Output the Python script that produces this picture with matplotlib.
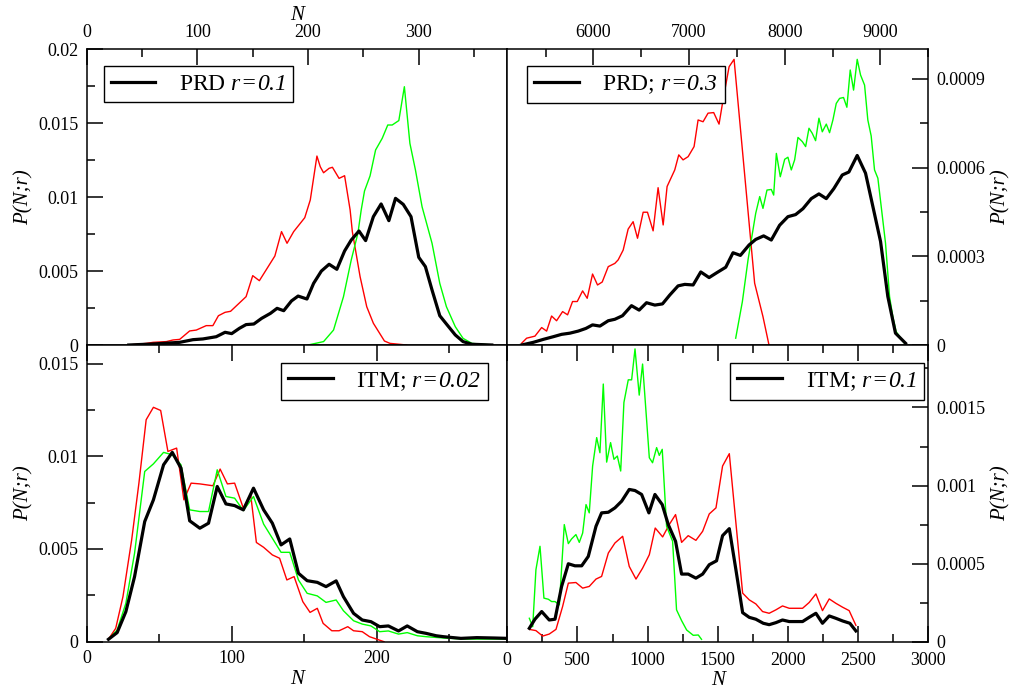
import matplotlib
matplotlib.use("Agg")
import matplotlib.pyplot as plt
from matplotlib.ticker import MultipleLocator, FormatStrFormatter

plt.rcParams["font.family"] = ["Liberation Serif", "DejaVu Serif"]
plt.rcParams["mathtext.fontset"] = "custom"
plt.rcParams["mathtext.rm"] = "Liberation Serif:italic"
plt.rcParams["mathtext.it"] = "Liberation Serif:italic"

# --- PRD r=0.1 (top left) ---
tl_black_n = [38, 60, 84, 96, 105, 117, 125, 131, 138, 144, 151, 158, 166, 172, 178, 185, 191,
              199, 205, 212, 219, 226, 233, 239, 246, 252, 259, 266, 273, 279, 286, 293, 300,
              306, 312, 319, 325, 333, 340, 348, 366]
tl_black_p = [0.0, 0.00007, 0.00018, 0.00036, 0.00041, 0.00056, 0.00086, 0.00077, 0.00113,
              0.00138, 0.00142, 0.0018, 0.00214, 0.00248, 0.00232, 0.00298, 0.00331, 0.00311,
              0.00417, 0.005, 0.00546, 0.00512, 0.00636, 0.0071, 0.00771, 0.00706, 0.00868,
              0.00954, 0.00841, 0.00992, 0.00951, 0.00868, 0.00593, 0.0053, 0.00372, 0.00198,
              0.00142, 0.00068, 0.00023, 0.00005, 0.0]
tl_red_n = [38, 54, 60, 72, 78, 84, 93, 99, 108, 114, 119, 125, 130, 144, 150, 156, 170, 176,
            181, 187, 197, 202, 208, 211, 214, 219, 222, 228, 233, 238, 240, 247, 253, 259,
            269, 274, 289]
tl_red_p = [0.0, 0.00011, 0.00018, 0.00023, 0.00034, 0.00038, 0.00095, 0.00101, 0.00131,
            0.00131, 0.00198, 0.00221, 0.00228, 0.00327, 0.00469, 0.00435, 0.00602, 0.00767,
            0.00688, 0.00767, 0.00861, 0.00981, 0.01278, 0.01206, 0.01165, 0.01195, 0.01202,
            0.01127, 0.01145, 0.00913, 0.00767, 0.00462, 0.00259, 0.00147, 0.00027, 0.00011,
            0.0]
tl_green_n = [200, 214, 223, 232, 239, 245, 248, 251, 256, 261, 267, 272, 276, 282, 287, 292,
              297, 303, 312, 319, 325, 333, 340, 348, 366]
tl_green_p = [0.0, 0.00023, 0.00101, 0.00327, 0.00575, 0.00755, 0.00913, 0.01042, 0.01144,
              0.01319, 0.01398, 0.01488, 0.01488, 0.01518, 0.01747, 0.01364, 0.01184, 0.00935,
              0.00688, 0.00417, 0.00259, 0.00124, 0.00045, 0.00011, 0.0]

# --- PRD r=0.3 (top right) ---
tr_black_n = [5250, 5372, 5476, 5580, 5667, 5754, 5841, 5921, 5991, 6068, 6155, 6224, 6304,
              6398, 6478, 6555, 6642, 6722, 6798, 6885, 6955, 7042, 7122, 7209, 7292, 7383,
              7459, 7536, 7626, 7696, 7779, 7859, 7946, 8033, 8113, 8190, 8277, 8357, 8434,
              8513, 8601, 8670, 8757, 8844, 8921, 9001, 9077, 9157, 9262]
tr_black_p = [0.0, 9.0e-6, 1.9e-5, 2.8e-5, 3.6e-5, 4.0e-5, 4.7e-5, 5.6e-5, 6.8e-5, 6.4e-5,
              8.2e-5, 8.7e-5, 9.9e-5, 1.33e-4, 1.18e-4, 1.43e-4, 1.35e-4, 1.39e-4, 1.69e-4,
              2.0e-4, 2.05e-4, 2.03e-4, 2.47e-4, 2.28e-4, 2.45e-4, 2.63e-4, 3.12e-4, 3.03e-4,
              3.38e-4, 3.57e-4, 3.69e-4, 3.55e-4, 4.05e-4, 4.34e-4, 4.41e-4, 4.61e-4, 4.95e-4,
              5.11e-4, 4.95e-4, 5.29e-4, 5.75e-4, 5.85e-4, 6.41e-4, 5.81e-4, 4.68e-4, 3.5e-4,
              1.64e-4, 4.0e-5, 6.0e-6]
tr_red_n = [5250, 5302, 5389, 5459, 5511, 5563, 5615, 5678, 5730, 5782, 5831, 5887, 5935,
            5991, 6043, 6092, 6155, 6224, 6259, 6311, 6363, 6415, 6461, 6520, 6565, 6624,
            6676, 6729, 6770, 6850, 6892, 6937, 6990, 7052, 7094, 7146, 7198, 7257, 7313,
            7355, 7418, 7470, 7685, 7772, 7835]
tr_red_p = [6.0e-6, 2.3e-5, 3.0e-5, 5.9e-5, 4.7e-5, 9.8e-5, 8.2e-5, 1.13e-4, 1.02e-4,
            1.47e-4, 1.47e-4, 1.83e-4, 1.58e-4, 2.4e-4, 2.03e-4, 2.13e-4, 2.65e-4, 2.76e-4,
            2.88e-4, 3.21e-4, 3.92e-4, 4.17e-4, 3.61e-4, 4.49e-4, 4.49e-4, 3.86e-4, 5.32e-4,
            4.06e-4, 5.36e-4, 5.92e-4, 6.43e-4, 6.26e-4, 6.37e-4, 6.71e-4, 7.61e-4, 7.55e-4,
            7.84e-4, 7.86e-4, 7.47e-4, 8.29e-4, 9.41e-4, 9.66e-4, 2.09e-4, 9.6e-5, 0.0]
tr_green_n = [7487, 7557, 7616, 7696, 7738, 7772, 7814, 7859, 7884, 7912, 7953, 7999, 8033,
              8068, 8103, 8138, 8183, 8218, 8253, 8287, 8322, 8357, 8392, 8434, 8468, 8503,
              8538, 8573, 8614, 8649, 8684, 8719, 8757, 8792, 8834, 8868, 8903, 8938, 8973,
              9053, 9095, 9129, 9164, 9251]
tr_green_p = [2.3e-5, 1.47e-4, 2.88e-4, 4.45e-4, 5.02e-4, 4.62e-4, 5.24e-4, 5.26e-4, 5.07e-4,
              6.48e-4, 5.69e-4, 6.28e-4, 6.35e-4, 5.92e-4, 6.26e-4, 7.02e-4, 6.88e-4, 6.71e-4,
              7.33e-4, 7.16e-4, 6.91e-4, 7.67e-4, 7.21e-4, 7.47e-4, 7.18e-4, 7.61e-4, 8.17e-4,
              8.34e-4, 8.37e-4, 8.04e-4, 9.3e-4, 8.62e-4, 9.66e-4, 9.13e-4, 8.79e-4, 7.61e-4,
              7.07e-4, 5.92e-4, 5.64e-4, 3.44e-4, 1.64e-4, 9.6e-5, 4.5e-5, 6.0e-6]

# --- ITM r=0.02 (bottom left) ---
bl_black_n = [15, 21, 27, 33, 40, 46, 53, 59, 65, 71, 78, 84, 90, 96, 102, 108, 115, 122, 128,
              134, 140, 146, 152, 159, 165, 172, 177, 184, 190, 196, 202, 208, 215, 221, 228,
              234, 241, 246, 258, 269, 281, 290]
bl_black_p = [0.00013, 0.00049, 0.00162, 0.00351, 0.00648, 0.00765, 0.00954, 0.01021, 0.00936,
              0.00652, 0.00612, 0.00639, 0.00837, 0.00743, 0.00734, 0.00711, 0.00828, 0.00711,
              0.00639, 0.00522, 0.00554, 0.00369, 0.00329, 0.0032, 0.00297, 0.00328, 0.00243,
              0.00153, 0.00117, 0.00108, 0.00081, 0.00085, 0.00058, 0.00085, 0.00054, 0.00045,
              0.00032, 0.00027, 0.00018, 0.00022, 0.0002, 0.00018]
bl_red_n = [15, 20, 25, 31, 36, 41, 46, 51, 56, 62, 67, 72, 78, 87, 92, 97, 102, 108, 113, 117,
            122, 128, 133, 138, 143, 149, 154, 159, 163, 169, 174, 180, 184, 190, 195, 205]
bl_red_p = [0.00013, 0.00072, 0.00243, 0.00549, 0.00855, 0.01197, 0.01264, 0.01247, 0.01026,
            0.01044, 0.00765, 0.00855, 0.00851, 0.00841, 0.00931, 0.00851, 0.00855, 0.0072,
            0.00797, 0.00535, 0.00509, 0.00468, 0.0045, 0.00333, 0.00351, 0.00216, 0.00158,
            0.0018, 0.00099, 0.00059, 0.00059, 0.00081, 0.00059, 0.00054, 0.00027, 0.0]
bl_green_n = [15, 21, 27, 33, 40, 46, 53, 59, 65, 71, 78, 84, 90, 96, 102, 108, 115, 122, 128,
              134, 140, 146, 152, 159, 165, 172, 177, 184, 190, 196, 202, 208, 215, 221, 228,
              234, 246, 260, 290]
bl_green_p = [0.00013, 0.00063, 0.00207, 0.00477, 0.00918, 0.00959, 0.01021, 0.01008, 0.00954,
              0.00711, 0.00702, 0.00702, 0.00927, 0.00783, 0.00774, 0.00707, 0.00783, 0.00634,
              0.00558, 0.00482, 0.00482, 0.00333, 0.00261, 0.00247, 0.00212, 0.00225, 0.00167,
              0.00113, 0.00095, 0.00085, 0.00054, 0.00058, 0.00041, 0.00049, 0.00032, 0.00027,
              0.0002, 0.00014, 0.00014]

# --- ITM r=0.1 (bottom right) ---
br_black_n = [157, 197, 245, 299, 340, 387, 435, 482, 530, 577, 632, 672, 720, 767, 815, 869,
              910, 957, 1009, 1052, 1104, 1147, 1199, 1242, 1289, 1344, 1392, 1439, 1491, 1534,
              1582, 1629, 1677, 1724, 1771, 1824, 1866, 1914, 1961, 2009, 2104, 2151, 2199,
              2246, 2294, 2341, 2389, 2441, 2484]
br_black_p = [8.6e-5, 1.44e-4, 1.93e-4, 1.39e-4, 1.44e-4, 3.54e-4, 4.99e-4, 4.86e-4, 4.86e-4,
              5.46e-4, 7.39e-4, 8.25e-4, 8.29e-4, 8.57e-4, 9.0e-4, 9.75e-4, 9.68e-4, 9.43e-4,
              8.25e-4, 9.43e-4, 8.78e-4, 7.5e-4, 6.43e-4, 4.33e-4, 4.33e-4, 4.07e-4, 4.33e-4,
              4.93e-4, 5.18e-4, 6.79e-4, 7.24e-4, 4.61e-4, 1.86e-4, 1.56e-4, 1.44e-4, 1.18e-4,
              1.09e-4, 1.22e-4, 1.39e-4, 1.29e-4, 1.29e-4, 1.56e-4, 1.82e-4, 1.18e-4, 1.65e-4,
              1.5e-4, 1.33e-4, 1.18e-4, 6.9e-5]
br_red_n = [157, 204, 252, 299, 347, 394, 435, 489, 537, 584, 632, 672, 720, 767, 822, 869,
            917, 964, 1012, 1054, 1107, 1154, 1199, 1242, 1289, 1344, 1392, 1439, 1487, 1534,
            1582, 1629, 1677, 1724, 1771, 1819, 1866, 1914, 1961, 2009, 2104, 2151, 2199,
            2246, 2294, 2341, 2389, 2436, 2484]
br_red_p = [7.9e-5, 7.1e-5, 3.6e-5, 4.9e-5, 7.9e-5, 2.25e-4, 3.75e-4, 3.79e-4, 3.43e-4,
            3.54e-4, 4.01e-4, 4.18e-4, 5.68e-4, 6.32e-4, 6.75e-4, 4.82e-4, 4.01e-4, 4.71e-4,
            5.57e-4, 7.28e-4, 6.71e-4, 7.5e-4, 8.14e-4, 6.36e-4, 6.79e-4, 6.49e-4, 7.07e-4,
            8.18e-4, 8.57e-4, 1.125e-3, 1.204e-3, 7.61e-4, 3.11e-4, 2.68e-4, 2.42e-4, 1.93e-4,
            1.82e-4, 2.04e-4, 2.29e-4, 2.14e-4, 2.14e-4, 2.51e-4, 3.06e-4, 1.99e-4, 2.74e-4,
            2.46e-4, 2.21e-4, 1.99e-4, 1.05e-4]
br_green_n = [157, 181, 204, 233, 261, 292, 316, 340, 371, 406, 435, 458, 489, 513, 537, 561,
              584, 608, 637, 660, 684, 708, 736, 760, 784, 808, 831, 862, 886, 910, 940, 964,
              988, 1012, 1035, 1064, 1083, 1104, 1135, 1178, 1206, 1242, 1278, 1325, 1361, 1384]
br_green_p = [1.5e-4, 9.6e-5, 4.61e-4, 6.11e-4, 2.79e-4, 2.72e-4, 2.57e-4, 2.57e-4, 2.36e-4,
              7.5e-4, 6.28e-4, 6.58e-4, 6.86e-4, 6.36e-4, 6.96e-4, 8.78e-4, 8.25e-4, 1.125e-3,
              1.307e-3, 1.21e-3, 1.65e-3, 1.15e-3, 1.275e-3, 1.168e-3, 1.189e-3, 1.093e-3,
              1.532e-3, 1.677e-3, 1.677e-3, 1.875e-3, 1.579e-3, 1.778e-3, 1.478e-3, 1.178e-3,
              1.146e-3, 1.243e-3, 1.193e-3, 1.232e-3, 7.39e-4, 6.43e-4, 2.04e-4, 1.35e-4,
              7.5e-5, 4.1e-5, 4.3e-5, 1.5e-5]

RED = "#ff0000"
GREEN = "#00ff00"

fig = plt.figure(figsize=(10.15, 6.91), dpi=100)
fig.patch.set_facecolor("white")

L, M, R = 86.7 / 1015, 507.3 / 1015, 928.3 / 1015
T, C, B = 1 - 49.3 / 691, 1 - 345 / 691, 1 - 641.7 / 691

ax_tl = fig.add_axes([L, C, M - L, T - C])
ax_tr = fig.add_axes([M, C, R - M, T - C])
ax_bl = fig.add_axes([L, B, M - L, C - B])
ax_br = fig.add_axes([M, B, R - M, C - B])

panels = [
    (ax_tl, tl_red_n, tl_red_p, tl_green_n, tl_green_p, tl_black_n, tl_black_p),
    (ax_tr, tr_red_n, tr_red_p, tr_green_n, tr_green_p, tr_black_n, tr_black_p),
    (ax_bl, bl_red_n, bl_red_p, bl_green_n, bl_green_p, bl_black_n, bl_black_p),
    (ax_br, br_red_n, br_red_p, br_green_n, br_green_p, br_black_n, br_black_p),
]
labels = [r"PRD $r\!=\!0.1$", r"PRD; $r\!=\!0.3$",
          r"ITM; $r\!=\!0.02$", r"ITM; $r\!=\!0.1$"]

for (ax, rn, rp, gn, gp, kn, kp), lab in zip(panels, labels):
    ax.plot(rn, rp, color=RED, lw=1.0)
    ax.plot(gn, gp, color=GREEN, lw=1.0)
    ax.plot(kn, kp, color="black", lw=2.3, label=lab)
    for sp in ax.spines.values():
        sp.set_linewidth(1.1)
    ax.tick_params(which="both", direction="in", width=1.1, labelsize=13,
                   top=False, bottom=False, left=False, right=False,
                   labeltop=False, labelbottom=False, labelleft=False, labelright=False)
    ax.tick_params(which="major", length=11.5, pad=6)
    ax.tick_params(which="minor", length=5.8)
    ax.yaxis.set_major_formatter(FormatStrFormatter("%g"))

# top left
ax_tl.set_xlim(0, 380)
ax_tl.set_ylim(0, 0.02)
ax_tl.xaxis.set_major_locator(MultipleLocator(100))
ax_tl.xaxis.set_minor_locator(MultipleLocator(50))
ax_tl.yaxis.set_major_locator(MultipleLocator(0.005))
ax_tl.yaxis.set_minor_locator(MultipleLocator(0.0025))
ax_tl.tick_params(which="both", top=True, labeltop=True, left=True, labelleft=True)
ax_tl.xaxis.set_label_position("top")
ax_tl.set_xlabel("N", fontstyle="italic", fontsize=15, labelpad=3)
ax_tl.set_ylabel("P(N;r)", fontstyle="italic", fontsize=15, labelpad=3)

# top right
ax_tr.set_xlim(5100, 9500)
ax_tr.set_ylim(0, 0.001)
ax_tr.xaxis.set_major_locator(MultipleLocator(1000))
ax_tr.xaxis.set_minor_locator(MultipleLocator(500))
ax_tr.yaxis.set_major_locator(MultipleLocator(0.0003))
ax_tr.yaxis.set_minor_locator(MultipleLocator(0.00015))
ax_tr.tick_params(which="both", top=True, labeltop=True, right=True, labelright=True)
ax_tr.yaxis.set_label_position("right")
ax_tr.set_ylabel("P(N;r)", fontstyle="italic", fontsize=15, labelpad=4)

# bottom left
ax_bl.set_xlim(0, 290)
ax_bl.set_ylim(0, 0.016)
ax_bl.xaxis.set_major_locator(MultipleLocator(100))
ax_bl.xaxis.set_minor_locator(MultipleLocator(50))
ax_bl.yaxis.set_major_locator(MultipleLocator(0.005))
ax_bl.yaxis.set_minor_locator(MultipleLocator(0.0025))
ax_bl.tick_params(which="both", top=True, bottom=True, labelbottom=True,
                  left=True, labelleft=True)
ax_bl.set_xlabel("N", fontstyle="italic", fontsize=15, labelpad=2)
ax_bl.set_ylabel("P(N;r)", fontstyle="italic", fontsize=15, labelpad=3)

# bottom right
ax_br.set_xlim(0, 3000)
ax_br.set_ylim(0, 0.0019)
ax_br.xaxis.set_major_locator(MultipleLocator(500))
ax_br.xaxis.set_minor_locator(MultipleLocator(250))
ax_br.yaxis.set_major_locator(MultipleLocator(0.0005))
ax_br.yaxis.set_minor_locator(MultipleLocator(0.00025))
ax_br.tick_params(which="both", top=True, bottom=True, labelbottom=True,
                  right=True, labelright=True)
ax_br.tick_params(axis="x", which="major", pad=7.5)
ax_br.yaxis.set_label_position("right")
ax_br.set_xlabel("N", fontstyle="italic", fontsize=15, labelpad=1)
ax_br.set_ylabel("P(N;r)", fontstyle="italic", fontsize=15, labelpad=4)

leg_kw = dict(fontsize=17, frameon=True, fancybox=False, edgecolor="black",
              framealpha=1, borderaxespad=0, handlelength=1.9, handletextpad=1.0,
              borderpad=0.3)
for ax, loc, anchor in [(ax_tl, "upper left", (0.04, 0.943)),
                        (ax_tr, "upper left", (0.046, 0.943)),
                        (ax_bl, "upper right", (0.955, 0.94)),
                        (ax_br, "upper right", (0.99, 0.94))]:
    leg = ax.legend(loc=loc, bbox_to_anchor=anchor, **leg_kw)
    leg.get_frame().set_linewidth(1.0)

plt.savefig("out.png", dpi=100)
